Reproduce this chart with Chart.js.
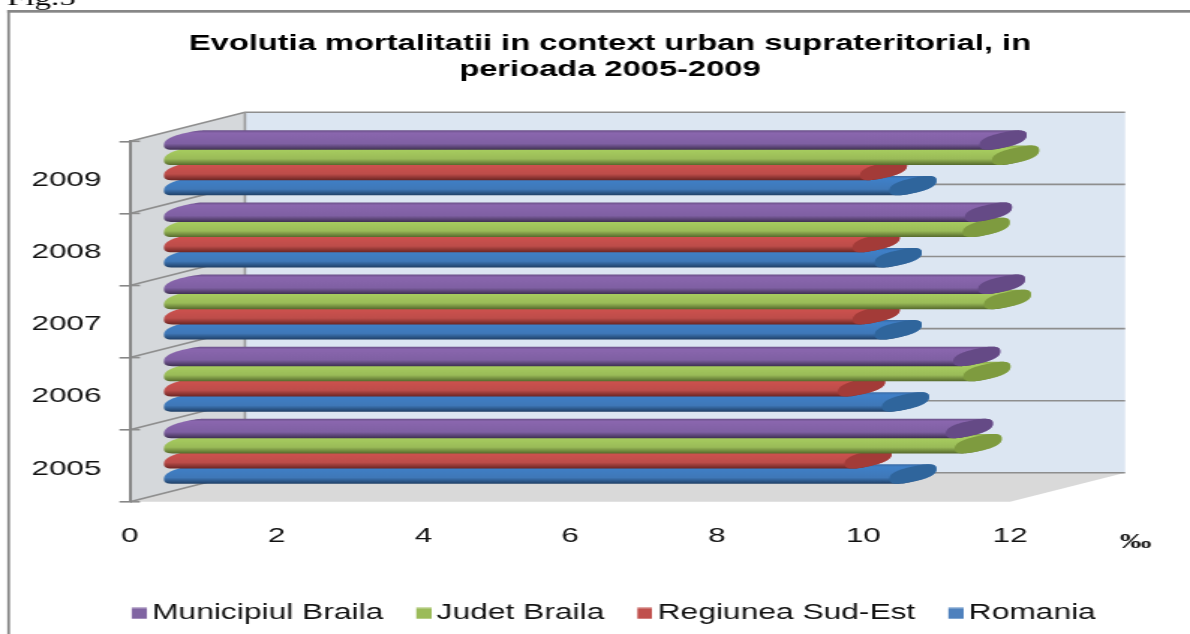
<!DOCTYPE html>
<html><head><meta charset="utf-8">
<script src="https://cdn.jsdelivr.net/npm/chart.js@4"></script>
<style>
html,body{margin:0;padding:0;background:#fff;overflow:hidden;width:1190px;height:634px}
#wrap{width:794px;height:634px;transform-origin:0 0;transform:scaleX(1.4987);filter:blur(.35px)}
canvas{display:block}
</style></head><body>
<div id="wrap"><canvas id="c" width="794" height="634"></canvas></div>
<script>
const categories = ['2009','2008','2007','2006','2005'];
const municipiulBraila = [11.12,10.92,11.10,10.76,10.66];
const judetBraila = [11.29,10.89,11.18,10.90,10.78];
const regiuneaSudEst = [9.49,9.39,9.39,9.19,9.28];
const romania = [9.89,9.69,9.69,9.79,9.89];
const seriesNames = ['Municipiul Braila','Judet Braila','Regiunea Sud-Est','Romania'];
const titleLines = ['Evolutia mortalitatii in context urban suprateritorial, in','perioada 2005-2009'];

const S = 1190/794;
const DEPTH_X = 115/S, DEPTH_Y = -29;
const palette = [
 {box:'#8064a2',stops:['#6a5088','#8a66ae','#7f60a3','#3f3052'],cap:'#654a86'},
 {box:'#9bbb59',stops:['#8aa84c','#a9cf60','#9abb58','#55692c'],cap:'#7e9b3f'},
 {box:'#c0504d',stops:['#a84441','#d0524f','#bd4d4a','#6b2523'],cap:'#a33b38'},
 {box:'#4f81bd',stops:['#3a6ba5','#3f80c8','#3f78b8','#1f3f66'],cap:'#2f659c'}
];
const drawOrder = [3,2,1,0];

// legend swatch: an image whose square sits just before the label text
function swatch(color){
  const cv = document.createElement('canvas');
  cv.width = 22; cv.height = 12;
  const x = cv.getContext('2d');
  x.fillStyle = color; x.fillRect(12,0.5,10,11);
  return cv;
}

function bar3d(ctx, el, p){
  const h = el.height, a = 23.5/S, b = h*0.33, r = h*0.5;
  const cy = el.y + DEPTH_Y/2, x0 = el.base + DEPTH_X/2, x1 = el.x + DEPTH_X/2;
  const pw = (v)=>Math.sign(v)*Math.pow(Math.abs(v),0.78);
  const pt = (cx,t)=>{const C=pw(Math.cos(t)),Z=pw(Math.sin(t));return [cx+a*C, cy-b*C+r*Z];};
  // topmost point of the end outline
  let t1=0, top=Infinity;
  for(let i=0;i<720;i++){const t=-Math.PI*i/360, y=pt(0,t)[1]; if(y<top){top=y;t1=t;}}
  const n = cy-top;
  const g = ctx.createLinearGradient(0,cy-n,0,cy+n);
  g.addColorStop(0,p.stops[0]); g.addColorStop(.14,p.stops[1]);
  g.addColorStop(.68,p.stops[2]); g.addColorStop(1,p.stops[3]);
  ctx.beginPath();
  for(let i=0;i<=36;i++){const q=pt(x0,t1-Math.PI*i/36); i?ctx.lineTo(q[0],q[1]):ctx.moveTo(q[0],q[1]);}
  for(let i=0;i<=36;i++){const q=pt(x1,t1-Math.PI-Math.PI*i/36); ctx.lineTo(q[0],q[1]);}
  ctx.closePath(); ctx.fillStyle=g; ctx.fill();
  ctx.beginPath();
  for(let i=0;i<=72;i++){const q=pt(x1,Math.PI*2*i/72); i?ctx.lineTo(q[0],q[1]):ctx.moveTo(q[0],q[1]);}
  ctx.closePath(); ctx.fillStyle=p.cap; ctx.fill();
}

const scene = {
  id:'scene',
  beforeDraw(chart){
    const c = chart.ctx, A = chart.chartArea;
    const l=A.left, r=A.right, t=A.top, b=A.bottom;
    c.save();
    // frame
    c.fillStyle='#878787';
    c.fillRect(7.3/S,10,794,2.7);
    c.fillRect(7.3/S,10,2.7/S,634);
    // caption above the frame
    c.fillStyle='#000'; c.font='22px "Liberation Serif"'; c.textAlign='left'; c.textBaseline='alphabetic';
    c.fillText('Fig.5',7/S,5);
    // walls
    c.fillStyle='#dce6f2'; c.fillRect(l+DEPTH_X,t+DEPTH_Y,r-l,b-t);
    c.fillStyle='#d5d8db';
    c.beginPath();c.moveTo(l,t);c.lineTo(l+DEPTH_X,t+DEPTH_Y);c.lineTo(l+DEPTH_X,b+DEPTH_Y);c.lineTo(l,b);c.closePath();c.fill();
    c.fillStyle='#d9d9d9';
    c.beginPath();c.moveTo(l,b);c.lineTo(l+DEPTH_X,b+DEPTH_Y);c.lineTo(r+DEPTH_X,b+DEPTH_Y);c.lineTo(r,b);c.closePath();c.fill();
    // gridlines
    const band=(b-t)/categories.length;
    c.strokeStyle='#8e8e8e'; c.lineWidth=1.6;
    for(let i=0;i<=categories.length;i++){
      const y=t+band*i;
      c.beginPath();c.moveTo(l,y);c.lineTo(l+DEPTH_X,y+DEPTH_Y);c.lineTo(r+DEPTH_X,y+DEPTH_Y);c.stroke();
      c.beginPath();c.moveTo(l,y);c.lineTo(l+10/S,y);c.stroke();
    }
    c.lineWidth=1.6; c.strokeStyle='#9a9a9a';
    c.beginPath();c.moveTo(l+DEPTH_X,t+DEPTH_Y);c.lineTo(l+DEPTH_X,b+DEPTH_Y);c.stroke();
    c.restore();
  },
  beforeDatasetsDraw(chart){
    const c = chart.ctx;
    c.save();
    drawOrder.forEach(i=>{
      chart.getDatasetMeta(i).data.forEach(el=>bar3d(c,el,palette[i]));
    });
    c.restore();
    return false;
  },
  afterDraw(chart){
    const c = chart.ctx;
    c.save();
    c.fillStyle='#111'; c.font='bold 21px "Liberation Serif"'; c.textAlign='left'; c.textBaseline='alphabetic';
    c.fillText('\u2030',1120/S,548);
    c.restore();
  }
};

const mk = (name,data,i)=>({label:name,data,backgroundColor:palette[i].box,borderWidth:0,
  categoryPercentage:0.842,barPercentage:1});

new Chart(document.getElementById('c'),{
  type:'bar',
  plugins:[scene],
  data:{labels:categories,datasets:[
    mk(seriesNames[0],municipiulBraila,0),
    mk(seriesNames[1],judetBraila,1),
    mk(seriesNames[2],regiuneaSudEst,2),
    mk(seriesNames[3],romania,3)
  ]},
  options:{
    indexAxis:'y',responsive:false,animation:false,devicePixelRatio:1,
    layout:{padding:{left:20,right:0,top:0,bottom:0}},
    scales:{
      x:{min:0,max:12,position:'bottom',
        grid:{display:false},border:{display:false},
        ticks:{stepSize:2,maxRotation:0,autoSkip:false,padding:14,color:'#111',font:{family:'Liberation Sans',size:21}},
        afterFit(s){s.height=84;}},
      y:{position:'left',
        grid:{display:true,drawOnChartArea:false,drawTicks:true,tickLength:7,color:'#878787',lineWidth:1.6},
        border:{display:true,color:'#878787',width:2},
        ticks:{padding:12,labelOffset:3,color:'#111',font:{family:'Liberation Sans',size:21}},
        afterFit(s){s.width=66.7;}},
      y2:{type:'linear',position:'right',display:true,
        grid:{display:false},border:{display:false},ticks:{display:false},
        afterFit(s){s.width=120;}}
    },
    plugins:{
      title:{display:true,text:titleLines,color:'#000',
        font:{family:'Liberation Sans',size:21.8,weight:'bold',lineHeight:1.2},
        padding:{top:30.5,bottom:58.5}},
      legend:{position:'bottom',align:'center',
        labels:{usePointStyle:true,boxWidth:8,boxHeight:11,padding:17,color:'#111',
          font:{family:'Liberation Sans',size:21.2},
          generateLabels(chart){
            return Chart.defaults.plugins.legend.labels.generateLabels(chart)
              .map((it,i)=>({...it,pointStyle:swatch(palette[i].box)}));
          }}},
      tooltip:{enabled:false}
    }
  }
});
</script>
</body></html>
